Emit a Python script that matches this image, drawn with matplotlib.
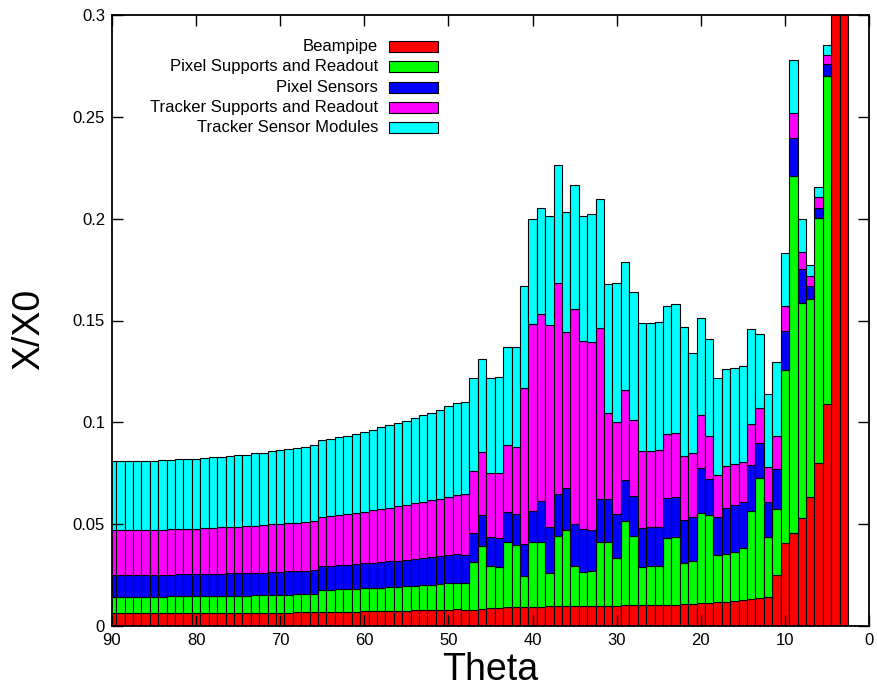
import numpy as np
import matplotlib.pyplot as plt
from matplotlib.patches import Rectangle

# bar centres (degrees), one bar per degree from 90 down to 3
theta = list(range(90, 2, -1))

names = ["Beampipe", "Pixel Supports and Readout", "Pixel Sensors",
         "Tracker Supports and Readout", "Tracker Sensor Modules"]
colors = ["#ff0000", "#00ff00", "#0000ff", "#ff00ff", "#00ffff"]

beampipe = [
    .0062, .0062, .0062, .0062, .0062, .0062, .0062, .0062, .0063, .0063,
    .0063, .0063, .0063, .0064, .0064, .0064, .0064, .0065, .0065, .0066,
    .0066, .0066, .0067, .0067, .0068, .0068, .0069, .0070, .0070, .0071,
    .0072, .0072, .0073, .0074, .0075, .0076, .0077, .0078, .0079, .0080,
    .0081, .0082,
    .0080, .0079, .0082, .0087, .0090, .0092, .0092, .0095, .0095, .0095,
    .0098, .0098, .0100, .0100, .0100, .0100, .0100, .0100, .0100, .0102,
    .0103, .0103, .0103, .0103, .0103, .0103, .0108, .0108, .0111, .0115,
    .0116, .0118, .0123, .0128, .0131, .0136, .0144, .0250, .0406, .0455,
    .0529, .0632, .0799, .1090, .40, .40]

pixel_support = [
    .0082, .0082, .0082, .0082, .0082, .0082, .0082, .0083, .0083, .0083,
    .0083, .0084, .0084, .0084, .0085, .0085, .0085, .0086, .0086, .0087,
    .0087, .0088, .0088, .0089, .0090, .0108, .0109, .0110, .0111, .0112,
    .0113, .0114, .0116, .0117, .0118, .0120, .0121, .0123, .0124, .0126,
    .0128, .0130,
    .0133, .0237, .0311, .0208, .0198, .0322, .0306, .0150, .0319, .0319,
    .0161, .0344, .0371, .0195, .0167, .0172, .0314, .0314, .0232, .0416,
    .0339, .0188, .0192, .0192, .0331, .0336, .0203, .0213, .0442, .0428,
    .0231, .0236, .0240, .0253, .0435, .0591, .0291, .0323, .0851, .1756,
    .1057, .0972, .1206, .1610, 0, 0]

pixel_sensors = [
    .0106, .0106, .0106, .0106, .0106, .0106, .0107, .0107, .0107, .0107,
    .0108, .0108, .0108, .0109, .0109, .0110, .0110, .0111, .0111, .0112,
    .0113, .0114, .0114, .0115, .0116, .0117, .0118, .0119, .0120, .0121,
    .0122, .0124, .0125, .0126, .0128, .0129, .0131, .0133, .0135, .0136,
    .0138, .0140,
    .0136, .0142, .0152, .0144, .0146, .0147, .0150, .0156, .0152, .0201,
    .0225, .0206, .0205, .0206, .0208, .0199, .0208, .0208, .0218, .0199,
    .0196, .0189, .0193, .0193, .0193, .0196, .0209, .0213, .0221, .0179,
    .0187, .0227, .0229, .0229, .0223, .0170, .0175, .0196, .0190, .0183,
    .0169, .0067, .0049, .0058, 0, 0]

tracker_support = [
    .0221, .0221, .0221, .0221, .0222, .0222, .0222, .0223, .0223, .0224,
    .0224, .0225, .0226, .0227, .0228, .0229, .0230, .0231, .0232, .0234,
    .0235, .0237, .0238, .0240, .0242, .0244, .0246, .0248, .0250, .0253,
    .0255, .0258, .0261, .0264, .0267, .0270, .0273, .0277, .0280, .0284,
    .0288, .0293,
    .0297, .0303, .0308, .0314, .0319, .0328, .0333, .0766, .0917, .0917,
    .0994, .1038, .0769, .1055, .0926, .0922, .0843, .0425, .0453, .0443,
    .0373, .0381, .0373, .0376, .0316, .0311, .0315, .0317, .0262, .0213,
    .0206, .0206, .0202, .0197, .0203, .0172, .0169, .0166, .0124, .0123,
    .0082, .0049, .0054, .0046, 0, 0]

tracker_modules = [
    .0339, .0339, .0339, .0339, .0340, .0340, .0341, .0342, .0342, .0343,
    .0344, .0345, .0347, .0348, .0349, .0351, .0353, .0354, .0356, .0359,
    .0361, .0363, .0366, .0368, .0371, .0374, .0377, .0380, .0384, .0388,
    .0391, .0395, .0400, .0404, .0409, .0414, .0419, .0424, .0430, .0436,
    .0443, .0449,
    .0455, .0455, .0458, .0466, .0471, .0483, .0491, .0504, .0514, .0519,
    .0535, .0578, .0586, .0609, .0612, .0630, .0632, .0632, .0683, .0629,
    .0631, .0625, .0628, .0630, .0628, .0633, .0631, .0488, .0478, .0474,
    .0476, .0473, .0474, .0471, .0465, .0366, .0362, .0363, .0262, .0262,
    .0161, .0053, .0047, .0049, 0, 0]

layers = [beampipe, pixel_support, pixel_sensors, tracker_support, tracker_modules]

plt.rcParams['font.family'] = ['Liberation Sans', 'DejaVu Sans']

W, H = 877, 696
fig = plt.figure(figsize=(W / 100, H / 100), dpi=100)
ax = fig.add_axes([112 / W, 70 / H, 757 / W, 611 / H])

bottom = np.zeros(len(theta))
for vals, col in zip(layers, colors):
    ax.bar(theta, vals, width=1, bottom=bottom, color=col,
           edgecolor='black', linewidth=0.8)
    bottom += np.array(vals)

ax.set_xlim(90, 0)
ax.set_ylim(0, 0.3)
ax.set_xticks(range(90, -1, -10))
ax.set_yticks([0, 0.05, 0.1, 0.15, 0.2, 0.25, 0.3])
ax.set_yticklabels(['0', '0.05', '0.1', '0.15', '0.2', '0.25', '0.3'])
ax.tick_params(direction='in', top=True, right=True, length=8, width=1,
               labelsize=12, pad=5)
for s in ax.spines.values():
    s.set_linewidth(1.3)

ax.set_xlabel('Theta', fontsize=27)
ax.set_ylabel('X/X0', fontsize=27)
ax.xaxis.set_label_coords(0.5, -0.042)
ax.yaxis.set_label_coords(-0.086, 0.486)

# key drawn in pixel coordinates, text right-aligned next to the swatch
for i, (name, col) in enumerate(zip(names, colors)):
    yc = 46.7 + 20.15 * i
    fig.text(378 / W, 1 - yc / H, name, ha='right', va='center', fontsize=12)
    fig.patches.append(Rectangle((389 / W, 1 - (yc + 5.5) / H), 49 / W, 11 / H,
                                 transform=fig.transFigure, facecolor=col,
                                 edgecolor='black', linewidth=0.8))

fig.savefig('out.png', dpi=100)
